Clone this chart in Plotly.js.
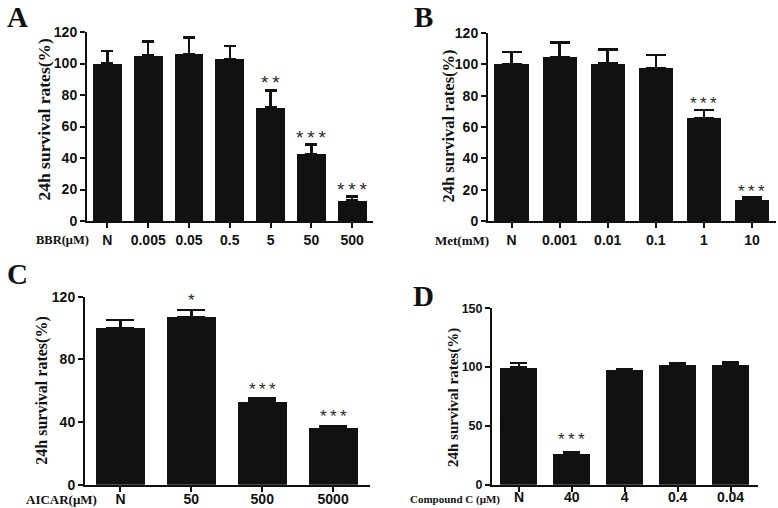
<!DOCTYPE html>
<html>
<head>
<meta charset="utf-8">
<script src="https://cdn.plot.ly/plotly-3.0.1.min.js"></script>
<style>html,body{margin:0;padding:0;background:#fff;}#chart{width:778px;height:508px;}</style>
</head>
<body>
<div id="chart"></div>
<script>
// Panel A: BBR
const catsA = ['N', '0.005', '0.05', '0.5', '5', '50', '500'];
const valsA = [100, 105, 106, 103, 72, 42.5, 13];
const errsA = [8, 9, 10.5, 8, 11, 6, 2.5];
const sigA = ['', '', '', '', '**', '***', '***'];
// Panel B: Met
const catsB = ['N', '0.001', '0.01', '0.1', '1', '10'];
const valsB = [100, 104.5, 100.5, 97.5, 65.5, 13.5];
const errsB = [8, 9.5, 9, 8.5, 5.5, 1.5];
const sigB = ['', '', '', '', '***', '***'];
// Panel C: AICAR
const catsC = ['N', '50', '500', '5000'];
const valsC = [100, 107, 53, 36];
const errsC = [5, 4.5, 2, 1.5];
const sigC = ['', '*', '***', '***'];
// Panel D: Compound C
const catsD = ['N', '40', '4', '0.4', '0.04'];
const valsD = [99.5, 26.5, 97.5, 101.5, 101.5];
const errsD = [4, 1.5, 1, 2, 2.5];
const sigD = ['', '***', '', '', ''];

const panels = [
  {cats: catsA, vals: valsA, errs: errsA, sig: sigA, xa: 'x', ya: 'y', bw: 0.71, cap: 6, sh: 7.5, fs: 19},
  {cats: catsB, vals: valsB, errs: errsB, sig: sigB, xa: 'x2', ya: 'y2', bw: 0.71, cap: 10, sh: 6.5, fs: 17},
  {cats: catsC, vals: valsC, errs: errsC, sig: sigC, xa: 'x3', ya: 'y3', bw: 0.69, cap: 14, sh: 9.5, fs: 17},
  {cats: catsD, vals: valsD, errs: errsD, sig: sigD, xa: 'x4', ya: 'y4', bw: 0.70, cap: 8.5, sh: 12.5, fs: 17}
];

const data = [];
const annotations = [];
panels.forEach(p => {
  const idx = p.cats.map((c, i) => i);
  data.push({
    type: 'bar', x: idx, y: p.vals, xaxis: p.xa, yaxis: p.ya,
    width: p.bw, marker: {color: '#111111', line: {width: 0}},
    error_y: {type: 'data', symmetric: false, array: p.errs, arrayminus: p.errs.map(() => 0),
              color: '#111111', thickness: 2.5, width: p.cap},
    hoverinfo: 'none', showlegend: false
  });
  p.sig.forEach((s, i) => {
    if (!s) return;
    annotations.push({
      xref: p.xa, yref: p.ya, x: i, y: p.vals[i] + p.errs[i], text: s.split('').join('\u2009'),
      showarrow: false, yanchor: 'middle', yshift: p.sh,
      font: {family: 'Liberation Sans, Arial, sans-serif', size: p.fs, color: '#2a2a2a'}
    });
  });
});

const W = 778, H = 508;
const px = v => v / W;
const py = v => 1 - v / H;

const tickFontSans = s => ({family: 'Liberation Sans, Arial, sans-serif', size: s, color: '#111', weight: 'bold'});
const serif = (s) => ({family: 'Liberation Serif, Times New Roman, serif', size: s, color: '#111', weight: 'bold'});

function xax(dom, anchor, cats, range, standoff) {
  return {domain: dom, anchor: anchor, range: range, tickmode: 'array',
          tickvals: cats.map((c, i) => i), ticktext: cats,
          showline: true, linecolor: '#111', linewidth: 2, ticks: 'outside', ticklen: 5, tickwidth: 2,
          tickcolor: '#111', showgrid: false, zeroline: false, tickfont: tickFontSans(14),
          ticklabelstandoff: standoff, fixedrange: true};
}
function yax(dom, anchor, range, dtick, fs) {
  return {domain: dom, anchor: anchor, range: range, dtick: dtick, tick0: 0,
          showline: true, linecolor: '#111', linewidth: 2, ticks: 'outside', ticklen: 5, tickwidth: 2,
          tickcolor: '#111', showgrid: false, zeroline: false, tickfont: tickFontSans(fs), fixedrange: true};
}

const ytitle = '24h survival rates(%)';
// y titles
[[43, 119.5, 17.5], [447.5, 126, 16.5], [42, 390.7, 16], [453, 398, 15]].forEach(t => {
  annotations.push({xref: 'paper', yref: 'paper', x: px(t[0]), y: py(t[1]), text: ytitle, textangle: -90,
    showarrow: false, xanchor: 'center', yanchor: 'middle', font: serif(t[2])});
});
// x labels
[['BBR(μM)', 62.5, 240, 12.5], ['Met(mM)', 462, 240, 13], ['AICAR(μM)', 61, 499, 13], ['Compound C (μM)', 455, 499.5, 11]].forEach(t => {
  annotations.push({xref: 'paper', yref: 'paper', x: px(t[1]), y: py(t[2]), text: t[0],
    showarrow: false, xanchor: 'center', yanchor: 'middle', borderpad: 0, font: serif(t[3])});
});
// panel letters
[['A', 17.5, 0], ['B', 424, 0], ['C', 17, 257], ['D', 424, 279]].forEach(t => {
  annotations.push({xref: 'paper', yref: 'paper', x: px(t[1]), y: py(t[2]), text: t[0],
    showarrow: false, xanchor: 'center', yanchor: 'top', borderpad: 0, font: serif(29)});
});

const layout = {
  width: W, height: H, margin: {l: 0, r: 0, t: 0, b: 0},
  paper_bgcolor: '#fff', plot_bgcolor: '#fff', bargap: 0, showlegend: false,
  xaxis: xax([px(87), px(373)], 'y', catsA, [-0.5, 6.51], 0),
  yaxis: yax([py(221), py(32)], 'x', [0, 120], 20, 14),
  xaxis2: xax([px(488), px(776)], 'y2', catsB, [-0.49, 5.5], 0),
  yaxis2: yax([py(221), py(33)], 'x2', [0, 120], 20, 14),
  xaxis3: xax([px(85), px(370)], 'y3', catsC, [-0.5, 3.52], -5),
  yaxis3: yax([py(484.7), py(296.7)], 'x3', [0, 120], 40, 14),
  xaxis4: xax([px(492), px(758)], 'y4', catsD, [-0.51, 4.52], -7),
  yaxis4: yax([py(484.7), py(308.3)], 'x4', [0, 150], 50, 12.5),
  annotations: annotations
};

Plotly.newPlot('chart', data, layout, {displayModeBar: false, staticPlot: true});
</script>
</body>
</html>
